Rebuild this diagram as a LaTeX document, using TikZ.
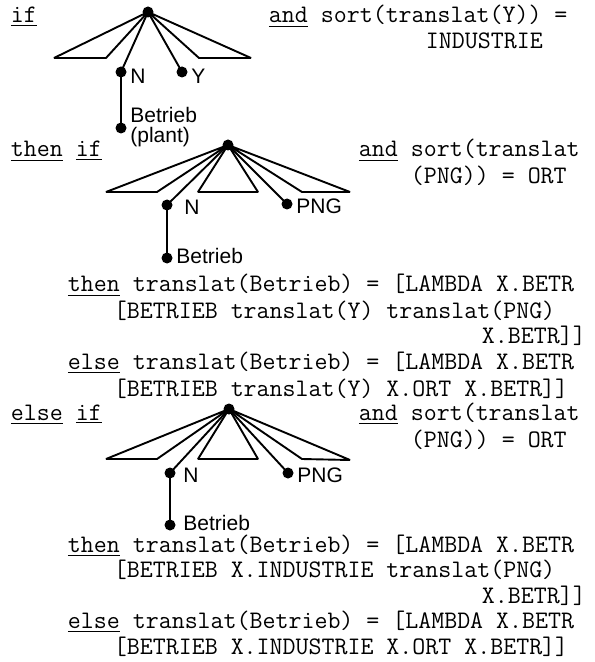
\documentclass[tikz,border=0pt]{standalone}
\usepackage{fontspec}
\newfontfamily\treefont{Liberation Sans}
\begin{document}
\begin{tikzpicture}[x=0.5pt,y=-0.5pt,line width=0.95pt,line join=bevel]
  \tikzstyle{dot}=[circle,fill=black,inner sep=0pt,minimum size=5.5pt]
  \tikzstyle{lbl}=[anchor=west,inner sep=1pt,align=left,font=\treefont\fontsize{10.5}{10}\selectfont]
  \tikzstyle{code}=[anchor=base west,inner sep=0pt,font=\ttfamily\fontsize{12.6}{15}\selectfont]
  \useasboundingbox (0,0) rectangle (594,662);
  \node[dot] (A_r) at (148,12)  {};
  \coordinate (A_1) at (54,58);
  \coordinate (A_2) at (106,58);
  \coordinate (A_3) at (199,58);
  \coordinate (A_4) at (251,58);
  \node[dot] (A_n) at (121,72)  {};
  \node[dot] (A_y) at (182,72)  {};
  \node[dot] (A_b) at (121,128) {};
  \draw (A_r.center) -- (A_1) -- (A_2) -- cycle;
  \draw (A_r.center) -- (A_3) -- (A_4) -- cycle;
  \draw (A_r.center) -- (A_n.center);
  \draw (A_r.center) -- (A_y.center);
  \draw (A_n.center) -- (A_b.center);
  \node[lbl] (A_nl) at ([yshift=-2pt]A_n.east) {N};
  \node[lbl] (A_yl) at ([yshift=-2pt]A_y.east) {Y};
  \node[lbl] (A_bl) at ([yshift=0.5pt]A_b.east) {Betrieb\\(plant)};
  \node[dot] (B_r) at (228,145) {};
  \coordinate (B_1) at (106,192);
  \coordinate (B_2) at (157,192);
  \coordinate (B_3) at (198,192);
  \coordinate (B_4) at (258,192);
  \coordinate (B_5) at (302,192);
  \coordinate (B_6) at (350,192);
  \node[dot] (B_n) at (167,205) {};
  \node[dot] (B_p) at (287,204) {};
  \node[dot] (B_b) at (167,258) {};
  \draw (B_r.center) -- (B_1) -- (B_2) -- cycle;
  \draw (B_r.center) -- (B_3) -- (B_4) -- cycle;
  \draw (B_r.center) -- (B_5) -- (B_6) -- cycle;
  \draw (B_r.center) -- (B_n.center);
  \draw (B_r.center) -- (B_p.center);
  \draw (B_n.center) -- (B_b.center);
  \node[lbl] (B_nl) at ([xshift=4pt,yshift=-1pt]B_n.east) {N};
  \node[lbl] (B_pl) at ([yshift=-1pt]B_p.east) {PNG};
  \node[lbl] (B_bl) at ([yshift=1pt]B_b.east) {Betrieb};
  \node[dot] (C_r) at (229,409) {};
  \coordinate (C_1) at (106,459);
  \coordinate (C_2) at (157,459);
  \coordinate (C_3) at (198,459);
  \coordinate (C_4) at (258,459);
  \coordinate (C_5) at (302,459);
  \coordinate (C_6) at (350,460);
  \node[dot] (C_n) at (170,473) {};
  \node[dot] (C_p) at (288,473) {};
  \node[dot] (C_b) at (170,525) {};
  \draw (C_r.center) -- (C_1) -- (C_2) -- cycle;
  \draw (C_r.center) -- (C_3) -- (C_4) -- cycle;
  \draw (C_r.center) -- (C_5) -- (C_6) -- cycle;
  \draw (C_r.center) -- (C_n.center);
  \draw (C_r.center) -- (C_p.center);
  \draw (C_n.center) -- (C_b.center);
  \node[lbl] (C_nl) at ([xshift=2pt,yshift=-1pt]C_n.east) {N};
  \node[lbl] (C_pl) at ([yshift=-1pt]C_p.east) {PNG};
  \node[lbl] (C_bl) at ([xshift=2pt,yshift=1pt]C_b.east) {Betrieb};
  \node[code] (T_1) at (10,23)   {\underline{if}};
  \node[code] (T_2) at (268,23)  {\underline{and} sort(translat(Y)) =};
  \node[code] (T_3) at (425,49)  {INDUSTRIE};
  \node[code] (T_4) at (10,157)  {\underline{then} \underline{if}};
  \node[code] (T_5) at (358,157) {\underline{and} sort(translat};
  \node[code] (T_6) at (410,184) {(PNG)) = ORT};
  \node[code] (T_7) at (67,292)  {\underline{then} translat(Betrieb) = [LAMBDA X.BETR};
  \node[code] (T_8) at (113,318) {[BETRIEB translat(Y) translat(PNG)};
  \node[code] (T_9) at (481,343) {X.BETR]]};
  \node[code] (T_10) at (67,369) {\underline{else} translat(Betrieb) = [LAMBDA X.BETR};
  \node[code] (T_11) at (113,396) {[BETRIEB translat(Y) X.ORT X.BETR]]};
  \node[code] (T_12) at (10,420) {\underline{else} \underline{if}};
  \node[code] (T_13) at (358,420) {\underline{and} sort(translat};
  \node[code] (T_14) at (410,447) {(PNG)) = ORT};
  \node[code] (T_15) at (67,552) {\underline{then} translat(Betrieb) = [LAMBDA X.BETR};
  \node[code] (T_16) at (113,577) {[BETRIEB X.INDUSTRIE translat(PNG)};
  \node[code] (T_17) at (481,603) {X.BETR]]};
  \node[code] (T_18) at (67,628) {\underline{else} translat(Betrieb) = [LAMBDA X.BETR};
  \node[code] (T_19) at (113,654) {[BETRIEB X.INDUSTRIE X.ORT X.BETR]]};
\end{tikzpicture}
\end{document}
